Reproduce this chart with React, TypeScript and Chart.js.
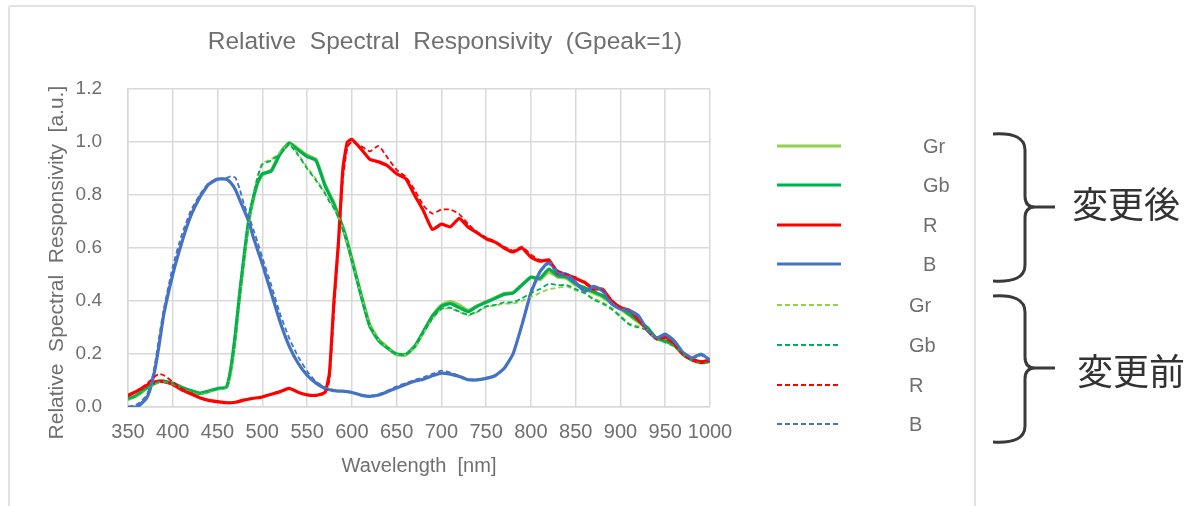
import React, { useEffect, useRef } from "react";
import { Chart, registerables } from "chart.js";
Chart.register(...registerables);

const wavelengths = [
  350, 360, 370, 375, 380, 385, 390,
  400, 410, 420, 430, 440, 450, 460,
  465, 470, 475, 480, 485, 490, 495,
  500, 510, 520, 530, 540, 550, 560, 570,
  575, 580, 585, 590, 595,
  600, 610, 620, 630, 640, 650, 660, 670, 680, 690,
  700, 710, 720, 730, 740, 750, 760, 770, 780, 790,
  800, 810, 820, 830, 840, 850, 860, 870, 880, 890,
  900, 910, 920, 930, 940, 950, 960, 970, 980, 990, 1000,
];

const grAfter = [
  0.028, 0.043, 0.068, 0.08, 0.088, 0.095, 0.097,
  0.088, 0.074, 0.06, 0.05, 0.058, 0.068, 0.074,
  0.14, 0.27, 0.43, 0.57, 0.7, 0.785, 0.845,
  0.875, 0.895, 0.96, 0.998, 0.975, 0.95, 0.935, 0.84,
  0.805, 0.77, 0.725, 0.68, 0.625,
  0.56, 0.43, 0.31, 0.255, 0.225, 0.198, 0.196, 0.226, 0.285, 0.346,
  0.385, 0.398, 0.385, 0.365, 0.382, 0.398, 0.412, 0.428, 0.432, 0.462,
  0.49, 0.48, 0.51, 0.49, 0.485, 0.46, 0.445, 0.43, 0.415, 0.39,
  0.37, 0.345, 0.32, 0.295, 0.258, 0.248, 0.232, 0.198, 0.178, 0.168, 0.172,
];

const gbAfter = [
  0.03, 0.045, 0.07, 0.082, 0.09, 0.097, 0.098,
  0.09, 0.075, 0.062, 0.052, 0.06, 0.07, 0.075,
  0.15, 0.28, 0.44, 0.58, 0.71, 0.79, 0.85,
  0.88, 0.89, 0.955, 0.995, 0.97, 0.945, 0.93, 0.835,
  0.8, 0.765, 0.72, 0.675, 0.62,
  0.555, 0.425, 0.305, 0.25, 0.222, 0.2, 0.198, 0.228, 0.285, 0.343,
  0.38, 0.39, 0.375, 0.36, 0.38, 0.395, 0.41, 0.425, 0.43, 0.46,
  0.49, 0.485, 0.52, 0.495, 0.49, 0.465, 0.45, 0.435, 0.42, 0.395,
  0.375, 0.35, 0.325, 0.3, 0.26, 0.25, 0.235, 0.2, 0.18, 0.17, 0.175,
];

const rAfter = [
  0.044, 0.06, 0.08, 0.09, 0.095, 0.098, 0.095,
  0.085, 0.065, 0.05, 0.035, 0.025, 0.02, 0.016,
  0.016, 0.018, 0.022, 0.027, 0.03, 0.033, 0.035,
  0.038, 0.048, 0.058, 0.07, 0.056, 0.046, 0.044, 0.055,
  0.13, 0.4, 0.62, 0.9, 1.0,
  1.01, 0.975, 0.935, 0.925, 0.91, 0.88, 0.862, 0.8, 0.74, 0.67,
  0.69, 0.68, 0.712, 0.678, 0.657, 0.635, 0.622, 0.6, 0.585, 0.6,
  0.565, 0.55, 0.555, 0.505, 0.5, 0.485, 0.47, 0.445, 0.445, 0.4,
  0.375, 0.365, 0.33, 0.29, 0.26, 0.265, 0.24, 0.2, 0.18, 0.17, 0.177,
];

const bAfter = [
  0.0, 0.0, 0.03, 0.07, 0.14, 0.24, 0.35,
  0.5, 0.62, 0.72, 0.79, 0.84, 0.86, 0.86,
  0.845, 0.82, 0.78, 0.74, 0.7, 0.64, 0.59,
  0.54, 0.43, 0.32, 0.23, 0.165, 0.12, 0.09, 0.07,
  0.065, 0.062, 0.06, 0.06, 0.058,
  0.055, 0.045, 0.04, 0.045, 0.058, 0.072, 0.085, 0.097, 0.105, 0.118,
  0.128, 0.124, 0.115, 0.103, 0.102, 0.108, 0.118, 0.145, 0.2, 0.31,
  0.43, 0.51, 0.548, 0.51, 0.5, 0.47, 0.435, 0.455, 0.44, 0.39,
  0.37, 0.365, 0.345, 0.29, 0.26, 0.275, 0.25, 0.205, 0.185, 0.2, 0.177,
];

const grBefore = [
  0.028, 0.043, 0.068, 0.078, 0.088, 0.094, 0.096,
  0.087, 0.073, 0.06, 0.052, 0.058, 0.066, 0.074,
  0.13, 0.25, 0.41, 0.56, 0.7, 0.8, 0.875,
  0.92, 0.935, 0.96, 0.993, 0.955, 0.905, 0.86, 0.81,
  0.78, 0.752, 0.718, 0.672, 0.618,
  0.552, 0.425, 0.31, 0.252, 0.224, 0.198, 0.197, 0.224, 0.278, 0.332,
  0.368, 0.372, 0.358, 0.345, 0.358, 0.378, 0.383, 0.39, 0.39, 0.4,
  0.415, 0.43, 0.445, 0.45, 0.455, 0.44, 0.43, 0.41, 0.395, 0.375,
  0.345, 0.315, 0.305, 0.29, 0.258, 0.243, 0.228, 0.194, 0.174, 0.163, 0.168,
];

const gbBefore = [
  0.03, 0.045, 0.07, 0.08, 0.09, 0.095, 0.097,
  0.088, 0.074, 0.062, 0.054, 0.06, 0.068, 0.076,
  0.14, 0.26, 0.42, 0.57, 0.71, 0.8, 0.87,
  0.915, 0.93, 0.955, 0.99, 0.95, 0.9, 0.855, 0.805,
  0.775, 0.75, 0.715, 0.67, 0.615,
  0.55, 0.42, 0.305, 0.25, 0.222, 0.2, 0.198, 0.226, 0.28, 0.335,
  0.37, 0.375, 0.36, 0.348, 0.36, 0.38, 0.385, 0.395, 0.395, 0.41,
  0.43, 0.445, 0.465, 0.46, 0.46, 0.445, 0.43, 0.405, 0.39, 0.37,
  0.34, 0.31, 0.3, 0.29, 0.26, 0.245, 0.23, 0.195, 0.175, 0.165, 0.17,
];

const rBefore = [
  0.04, 0.06, 0.085, 0.1, 0.115, 0.125, 0.12,
  0.095, 0.07, 0.052, 0.037, 0.027, 0.021, 0.017,
  0.017, 0.019, 0.023, 0.027, 0.03, 0.033, 0.035,
  0.038, 0.048, 0.058, 0.07, 0.056, 0.046, 0.044, 0.05,
  0.1, 0.36, 0.6, 0.86, 0.98,
  1.0, 0.985, 0.965, 0.985, 0.94, 0.895, 0.87, 0.82, 0.76, 0.73,
  0.745, 0.745, 0.728, 0.69, 0.66, 0.64, 0.625, 0.605, 0.59, 0.605,
  0.575, 0.555, 0.55, 0.515, 0.5, 0.49, 0.465, 0.45, 0.44, 0.405,
  0.375, 0.36, 0.33, 0.29, 0.255, 0.26, 0.235, 0.195, 0.175, 0.165, 0.172,
];

const bBefore = [
  0.0, 0.01, 0.04, 0.08, 0.16, 0.27, 0.37,
  0.53, 0.65, 0.74, 0.8, 0.845, 0.86, 0.865,
  0.87, 0.865, 0.82, 0.76, 0.72, 0.67, 0.62,
  0.565, 0.46, 0.35, 0.26, 0.19, 0.135, 0.095, 0.075,
  0.068, 0.063, 0.06, 0.06, 0.058,
  0.055, 0.045, 0.042, 0.048, 0.062, 0.078, 0.09, 0.102, 0.112, 0.125,
  0.137, 0.13, 0.118, 0.105, 0.104, 0.11, 0.12, 0.145, 0.2, 0.31,
  0.44, 0.51, 0.54, 0.5, 0.49, 0.47, 0.44, 0.45, 0.435, 0.39,
  0.37, 0.36, 0.34, 0.29, 0.26, 0.27, 0.245, 0.205, 0.185, 0.195, 0.175,
];

const seriesNames = ["Gr", "Gb", "R", "B"];
const seriesColors = ["#92D050", "#00B050", "#FF0000", "#4472C4"];
const groupLabels = ["変更後", "変更前"];

const chartTitle = "Relative  Spectral  Responsivity  (Gpeak=1)";
const xTitle = "Wavelength  [nm]";
const yTitle = "Relative  Spectral  Responsivity  [a.u.]     ";

const FONT = "'Liberation Sans', Arial, sans-serif";
const TEXT = "#6f6f6f";
const GRID = "#d9d9d9";

export default function App() {
  const ref = useRef<HTMLCanvasElement>(null);

  useEffect(() => {
    const canvas = ref.current;
    if (!canvas) return;
    const afterSets = [grAfter, gbAfter, rAfter, bAfter];
    const beforeSets = [grBefore, gbBefore, rBefore, bBefore];
    const datasets: any[] = [];
    afterSets.forEach((arr, i) => {
      datasets.push({
        label: seriesNames[i],
        data: wavelengths.map((w, j) => ({ x: w, y: arr[j] })),
        borderColor: seriesColors[i],
        backgroundColor: seriesColors[i],
        borderWidth: 3.2,
        pointRadius: 0,
        tension: 0.15,
        fill: false,
      });
    });
    beforeSets.forEach((arr, i) => {
      datasets.push({
        label: seriesNames[i],
        data: wavelengths.map((w, j) => ({ x: w, y: arr[j] })),
        borderColor: seriesColors[i],
        backgroundColor: seriesColors[i],
        borderWidth: 1.8,
        borderDash: [5, 3],
        pointRadius: 0,
        tension: 0.15,
        fill: false,
      });
    });
    datasets.forEach((d, i) => (d.order = datasets.length - 1 - i));

    const chart = new Chart(canvas, {
      type: "line",
      data: { datasets },
      options: {
        animation: false,
        responsive: false,
        devicePixelRatio: 1,
        layout: { padding: { left: 45, right: 344, top: 6, bottom: 24 } },
        plugins: {
          legend: { display: false },
          tooltip: { enabled: false },
          title: {
            display: true,
            text: chartTitle,
            color: TEXT,
            font: { family: FONT, size: 24.5, weight: "normal" },
            padding: { top: 21.3, bottom: 32.3 },
          },
        },
        scales: {
          x: {
            type: "linear",
            min: 350,
            max: 1000,
            ticks: {
              stepSize: 50,
              autoSkip: false,
              maxRotation: 0,
              color: TEXT,
              padding: 13,
              font: { family: FONT, size: 20 },
              callback: (v: any) => String(v),
            },
            grid: { color: GRID, lineWidth: 1.5, drawTicks: false },
            border: { color: GRID, width: 1.5 },
            title: {
              display: true,
              text: xTitle,
              color: TEXT,
              font: { family: FONT, size: 20 },
              padding: { top: 0, bottom: 4 },
            },
            afterFit: (s: any) => {
              s.height = 75;
            },
          },
          y: {
            min: 0,
            max: 1.2,
            ticks: {
              stepSize: 0.2,
              color: TEXT,
              padding: 26,
              font: { family: FONT, size: 19 },
              callback: (v: any) => Number(v).toFixed(1),
            },
            grid: { color: GRID, lineWidth: 1.5, drawTicks: false },
            border: { color: GRID, width: 1.5 },
            title: {
              display: true,
              text: yTitle,
              color: TEXT,
              font: { family: FONT, size: 21 },
              padding: { top: 0, bottom: 0 },
            },
            afterFit: (s: any) => {
              s.width = 83;
            },
          },
          spacer: {
            type: "linear",
            position: "right",
            display: true,
            grid: { display: false, drawOnChartArea: false, drawTicks: false },
            border: { display: false },
            ticks: { display: false },
            afterFit: (s: any) => {
              s.width = 135;
            },
          },
        },
      },
    });
    return () => chart.destroy();
  }, []);

  const rowY = [146, 185, 225, 264, 305, 345, 385, 424];

  return (
    <div style={{ position: "absolute", left: 0, top: 0, width: 1189, height: 506, overflow: "hidden", background: "#fff" }}>
      <div
        style={{
          position: "absolute",
          left: 8,
          top: 5,
          width: 968,
          height: 540,
          border: "2px solid #e3e3e3",
          borderRadius: 3,
          boxSizing: "border-box",
        }}
      />
      <canvas
        ref={ref}
        width={1189}
        height={506}
        style={{ position: "absolute", left: 0, top: 0, width: 1189, height: 506 }}
      />
      <svg
        width={1189}
        height={506}
        style={{ position: "absolute", left: 0, top: 0 }}
      >
        {seriesNames.map((n, i) => (
          <g key={"a" + i}>
            <line x1={777} x2={841} y1={rowY[i]} y2={rowY[i]} stroke={seriesColors[i]} strokeWidth={3} />
            <text x={923} y={rowY[i]} dominantBaseline="central" fill={TEXT} fontFamily={FONT} fontSize={20}>
              {n}
            </text>
          </g>
        ))}
        {seriesNames.map((n, i) => (
          <g key={"b" + i}>
            <line
              x1={777}
              x2={841}
              y1={rowY[i + 4]}
              y2={rowY[i + 4]}
              stroke={seriesColors[i]}
              strokeWidth={1.8}
              strokeDasharray="5 3"
            />
            <text x={909} y={rowY[i + 4]} dominantBaseline="central" fill={TEXT} fontFamily={FONT} fontSize={20}>
              {n}
            </text>
          </g>
        ))}
        <path
          d="M 993 134 Q 1025 132 1025 150 L 1025 196 Q 1025 207 1035 207 L 1055 207 M 1035 207 Q 1025 207 1025 218 L 1025 265 Q 1025 283 993 281"
          fill="none"
          stroke="#3a3a3a"
          strokeWidth={3}
        />
        <path
          d="M 993 296 Q 1025 294 1025 312 L 1025 357 Q 1025 368 1035 368 L 1055 368 M 1035 368 Q 1025 368 1025 379 L 1025 426 Q 1025 444 993 442"
          fill="none"
          stroke="#3a3a3a"
          strokeWidth={3}
        />
        <text x={1072} y={202} dominantBaseline="central" fill="#333" fontFamily="'Noto Sans CJK JP', sans-serif" fontSize={36}>
          {groupLabels[0]}
        </text>
        <text x={1077} y={369} dominantBaseline="central" fill="#333" fontFamily="'Noto Sans CJK JP', sans-serif" fontSize={36}>
          {groupLabels[1]}
        </text>
      </svg>
    </div>
  );
}
